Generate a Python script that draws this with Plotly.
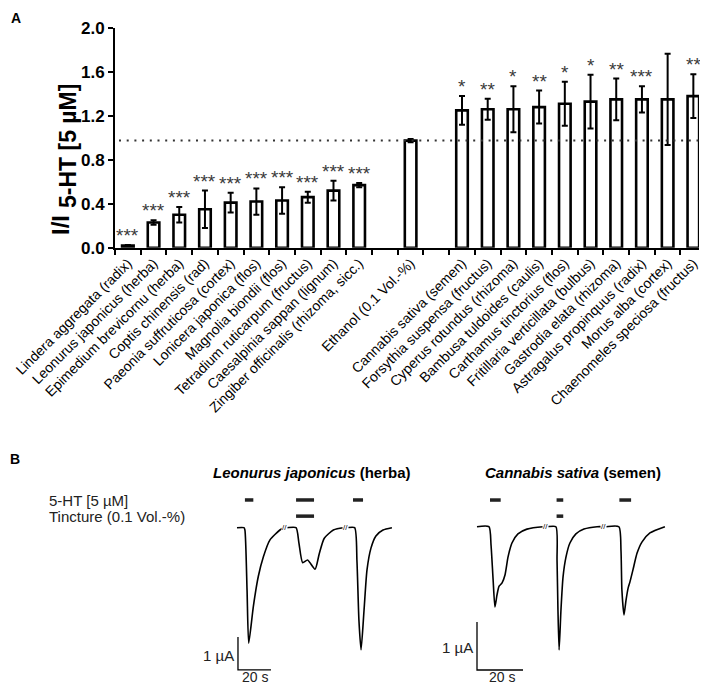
import plotly.graph_objects as go

# The page body has an 8px margin, so the figure is 8px smaller and coordinates are shifted.
OFF = 8
W, H = 708 - OFF, 687 - OFF

# ---------------- Panel A data ----------------
left_names = ["Lindera aggregata (radix)", "Leonurus japonicus (herba)", "Epimedium brevicornu (herba)",
              "Coptis chinensis (rad)", "Paeonia suffruticosa (cortex)", "Lonicera japonica (flos)",
              "Magnolia biondii (flos)", "Tetradium ruticarpum (fructus)", "Caesalpinia sappan (lignum)",
              "Zingiber officinalis (rhizoma, sicc.)"]
left_vals = [0.02, 0.23, 0.30, 0.35, 0.41, 0.42, 0.43, 0.46, 0.52, 0.57]
left_err = [0.005, 0.02, 0.07, 0.17, 0.09, 0.12, 0.12, 0.05, 0.09, 0.02]
left_stars = ["***"] * 10

control_name = "Ethanol (0.1 Vol.-%)"
control_val = 0.975
control_err = 0.015

right_names = ["Cannabis sativa (semen)", "Forsythia suspensa (fructus)", "Cyperus rotundus (rhizoma)",
               "Bambusa tuldoides (caulis)", "Carthamus tinctorius (flos)", "Fritillaria verticillata (bulbus)",
               "Gastrodia elata (rhizoma)", "Astragalus propinquus (radix)", "Morus alba (cortex)",
               "Chaenomeles speciosa (fructus)"]
right_vals = [1.25, 1.26, 1.26, 1.28, 1.31, 1.33, 1.35, 1.35, 1.35, 1.38]
right_err = [0.13, 0.095, 0.21, 0.15, 0.20, 0.245, 0.19, 0.12, 0.415, 0.20]
right_stars = ["*", "**", "*", "**", "*", "*", "**", "***", "", "**"]

reference_level = 0.975
y_ticks = [0.0, 0.4, 0.8, 1.2, 1.6, 2.0]

# ---------------- Panel B data (time s, current µA) ----------------
leo_t = [0, 4.2, 4.8, 6.1, 7.1, 9.9, 12.9, 16.0, 20.0, 26.0, 28.5, 30.3, 35.8, 37.5, 39.8, 42.8, 47.3,
         49.9, 52.9, 58.4, 64.4, 66.7, 71.3, 72.7, 73.9, 75.2, 77.0, 78.8, 81.2, 84.2, 88.5, 93.9]
leo_i = [0, 0, -0.07, -1.9, -3.5, -2.39, -1.48, -0.88, -0.37, -0.07, 0, 0, 0, -0.45, -1.06, -0.98, -1.26,
         -0.78, -0.32, -0.07, 0, 0, 0, -1.0, -2.8, -3.7, -2.5, -1.28, -0.62, -0.25, -0.07, 0]
leo_5ht = [(4.8, 9.9), (35.8, 46.7), (70.3, 76.4)]
leo_tinct = [(35.8, 46.7)]
leo_breaks = [29.0, 65.5]

can_t = [0, 5.2, 6.1, 7.0, 7.8, 8.7, 9.6, 10.9, 12.2, 13.5, 15.2, 17.8, 21.7, 28.7, 30.4, 34.3, 34.8, 35.2,
         35.7, 36.5, 37.4, 38.7, 40.4, 43.0, 46.5, 52.2, 55.7, 61.7, 62.6, 63.0, 63.9, 64.8, 65.7, 66.5,
         67.8, 69.6, 71.7, 75.2, 81.7]
can_i = [0, 0, -0.38, -1.1, -1.67, -1.42, -1.24, -1.17, -1.0, -0.63, -0.34, -0.15, -0.05, 0, 0, 0, -0.7, -1.74,
         -2.57, -1.74, -1.05, -0.63, -0.34, -0.15, -0.05, 0, 0, 0, -0.49, -1.32, -1.84, -1.53, -1.28, -1.15,
         -0.9, -0.55, -0.32, -0.13, 0]
can_5ht = [(5.65, 10.3), (34.6, 37.5), (61.9, 67.0)]
can_tinct = [(34.6, 37.5)]
can_breaks = [29.6, 54.8]

FONT = "Arial, Liberation Sans, Helvetica, sans-serif"


def px(x):
    return (x - OFF) / W


def py(y):
    return 1 - (y - OFF) / H


categories = left_names + [" "] + [control_name] + ["  "] + right_names
bar_x = left_names + [control_name] + right_names
bar_y = left_vals + [control_val] + right_vals
bar_e = left_err + [control_err] + right_err
bar_s = left_stars + [""] + right_stars

fig = go.Figure()

fig.add_trace(go.Bar(
    x=bar_x, y=bar_y, width=0.45,
    marker=dict(color="white", line=dict(color="black", width=2.6)),
    error_y=dict(type="data", array=bar_e, color="black", thickness=2, width=3),
    xaxis="x", yaxis="y", hoverinfo="skip"))

annotations = []
for name, v, e, s in zip(bar_x, bar_y, bar_e, bar_s):
    if s:
        annotations.append(dict(x=name, y=v + e, xref="x", yref="y", text=s, showarrow=False,
                                yanchor="bottom", yshift=-3,
                                font=dict(family=FONT, size=19, color="#3a3a3a")))

shapes = [dict(type="line", xref="paper", yref="y", x0=px(119), x1=px(706),
               y0=reference_level, y1=reference_level,
               line=dict(color="#333333", width=2, dash="2px,5.7px"))]


# ---------------- Panel B traces ----------------
def app_marks(spans, level, xa, ya):
    xs, ys = [], []
    for a, b in spans:
        xs += [a, b, None]
        ys += [level, level, None]
    return go.Scatter(x=xs, y=ys, mode="lines", line=dict(color="#222222", width=3.5),
                      xaxis=xa, yaxis=ya, hoverinfo="skip")


fig.add_trace(go.Scatter(x=leo_t, y=leo_i, mode="lines",
                         line=dict(color="black", width=1.6, shape="spline", smoothing=0.6),
                         xaxis="x2", yaxis="y2", hoverinfo="skip"))
fig.add_trace(app_marks(leo_5ht, 0.84, "x2", "y2"))
fig.add_trace(app_marks(leo_tinct, 0.35, "x2", "y2"))
fig.add_trace(go.Scatter(x=[0.6, 0.6, 20.6], y=[-3.31, -4.31, -4.31], mode="lines",
                         line=dict(color="black", width=1.3), xaxis="x2", yaxis="y2", hoverinfo="skip"))

fig.add_trace(go.Scatter(x=can_t, y=can_i, mode="lines",
                         line=dict(color="black", width=1.6, shape="spline", smoothing=0.6),
                         xaxis="x3", yaxis="y3", hoverinfo="skip"))
fig.add_trace(app_marks(can_5ht, 0.556, "x3", "y3"))
fig.add_trace(app_marks(can_tinct, 0.22, "x3", "y3"))
fig.add_trace(go.Scatter(x=[0, 0, 20], y=[-1.985, -2.985, -2.985], mode="lines",
                         line=dict(color="black", width=1.3), xaxis="x3", yaxis="y3", hoverinfo="skip"))

for b in leo_breaks:
    annotations.append(dict(x=b, y=0, xref="x2", yref="y2", text="//", showarrow=False,
                            font=dict(family=FONT, size=8, color="black"), bgcolor="white",
                            borderpad=0))
for b in can_breaks:
    annotations.append(dict(x=b, y=0, xref="x3", yref="y3", text="//", showarrow=False,
                            font=dict(family=FONT, size=8, color="black"), bgcolor="white",
                            borderpad=0))


# ---------------- Texts ----------------
def ptext(text, x, y, size, xanchor="center", yanchor="middle", angle=0, color="black"):
    annotations.append(dict(text=text, x=px(x), y=py(y), xref="paper", yref="paper", showarrow=False,
                            xanchor=xanchor, yanchor=yanchor, textangle=angle,
                            font=dict(family=FONT, size=size, color=color)))


ptext("<b>A</b>", 9, 8, 14, xanchor="left", yanchor="top")
ptext("<b>B</b>", 8, 449, 14, xanchor="left", yanchor="top")
ptext("<b>I/I</b>", 60, 237, 24, angle=-90, yanchor="bottom")
ptext("<b>5-HT [5 µM]</b>", 68, 210, 23, angle=-90, yanchor="bottom")

ptext("<b><i>Leonurus japonicus</i> (herba)</b>", 312, 472, 15)
ptext("<b><i>Cannabis sativa</i> (semen)</b>", 573, 472, 15)
ptext("5-HT [5 µM]", 47, 500, 15, xanchor="left", color="#222222")
ptext("Tincture (0.1 Vol.-%)", 47, 516, 15, xanchor="left", color="#222222")
ptext("1 µA", 236, 655, 15, xanchor="right", color="#222222")
ptext("20 s", 255, 686.5, 14, yanchor="bottom", color="#222222")
ptext("1 µA", 475, 647, 15, xanchor="right", color="#222222")
ptext("20 s", 502, 686.5, 14, yanchor="bottom", color="#222222")

hidden = dict(visible=False, showgrid=False, zeroline=False)

fig.update_layout(
    width=W, height=H, margin=dict(l=0, r=0, t=0, b=0),
    paper_bgcolor="white", plot_bgcolor="white", showlegend=False,
    font=dict(family=FONT, color="black"),
    xaxis=dict(domain=[px(115), px(699)], anchor="y", type="category", categoryorder="array",
               categoryarray=categories, range=[-0.5, 22.22], showline=True, linecolor="black",
               linewidth=2, ticks="outside", ticklen=5, tickwidth=2, tickcolor="black",
               tickson="boundaries", tickangle=-45, tickfont=dict(size=14, family=FONT, color="black"),
               showgrid=False, zeroline=False, automargin=False),
    yaxis=dict(domain=[py(247.7), py(28)], anchor="x", range=[0, 2], tickvals=y_ticks, tickformat=".1f",
               showline=True, linecolor="black", linewidth=2, ticks="outside", ticklen=5, tickwidth=2,
               tickcolor="black", tickfont=dict(size=17, family=FONT, color="black", weight="bold"),
               showgrid=False, zeroline=False, automargin=False),
    xaxis2=dict(domain=[px(220), px(400)], anchor="y2", range=[-10.3, 98.8], **hidden),
    yaxis2=dict(domain=[py(685), py(490)], anchor="x2", range=[-4.767, 1.142], **hidden),
    xaxis3=dict(domain=[px(440), px(700)], anchor="y3", range=[-16.09, 96.96], **hidden),
    yaxis3=dict(domain=[py(685), py(490)], anchor="x3", range=[-3.298, 0.765], **hidden),
    annotations=annotations, shapes=shapes,
)

fig.write_html("out.html")
